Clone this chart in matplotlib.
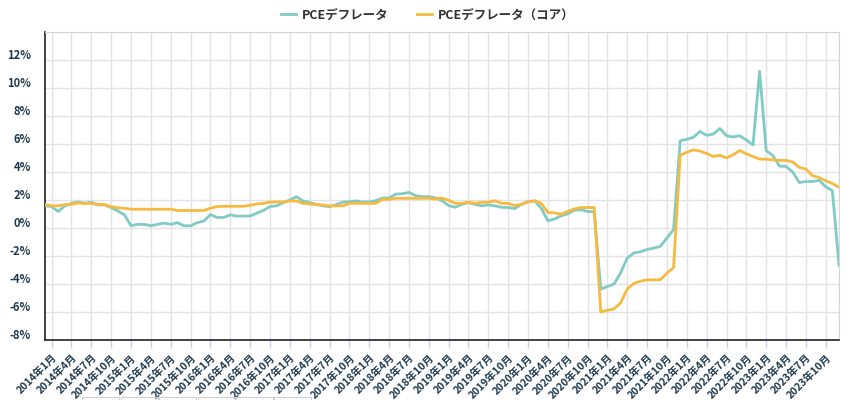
import pandas as pd
import matplotlib
matplotlib.use('Agg')
import matplotlib.pyplot as plt
from matplotlib.transforms import ScaledTranslation
from matplotlib.patches import Rectangle

plt.rcParams['font.family'] = ['Noto Sans CJK JP', 'DejaVu Sans']

# monthly, 2013-12 .. 2023-12 (前年比 %)
months = pd.date_range('2013-12-01', periods=121, freq='MS')
month_labels = [f"{d.year}年{d.month}月" for d in months]

pce = [1.58, 1.53, 1.18, 1.58, 1.76, 1.86, 1.76, 1.84, 1.65, 1.65,
       1.46, 1.22, 0.94, 0.16, 0.26, 0.26, 0.16, 0.26, 0.35, 0.26,
       0.38, 0.16, 0.16, 0.38, 0.49, 0.96, 0.75, 0.75, 0.94, 0.85,
       0.85, 0.85, 1.06, 1.25, 1.53, 1.58, 1.81, 2.00, 2.24, 1.93,
       1.81, 1.69, 1.58, 1.53, 1.67, 1.84, 1.88, 1.93, 1.86, 1.86,
       1.95, 2.14, 2.14, 2.42, 2.45, 2.54, 2.31, 2.24, 2.24, 2.16,
       1.95, 1.60, 1.48, 1.69, 1.81, 1.69, 1.58, 1.65, 1.58, 1.48,
       1.46, 1.39, 1.69, 1.88, 1.93, 1.41, 0.52, 0.64, 0.87, 1.01,
       1.27, 1.30, 1.18, 1.15, -4.36, -4.18, -4.00, -3.20, -2.15, -1.78,
       -1.70, -1.53, -1.44, -1.30, -0.71, -0.12, 6.24, 6.33, 6.48, 6.90,
       6.62, 6.71, 7.11, 6.59, 6.50, 6.59, 6.29, 5.93, 11.19, 5.53,
       5.18, 4.42, 4.40, 4.00, 3.25, 3.32, 3.32, 3.41, 2.94, 2.66,
       -2.66]

core = [1.67, 1.58, 1.58, 1.67, 1.69, 1.79, 1.76, 1.76, 1.69, 1.67,
        1.53, 1.44, 1.41, 1.34, 1.34, 1.34, 1.34, 1.34, 1.34, 1.34,
        1.25, 1.25, 1.25, 1.25, 1.25, 1.41, 1.53, 1.55, 1.55, 1.55,
        1.55, 1.62, 1.72, 1.76, 1.84, 1.86, 1.86, 1.93, 1.93, 1.76,
        1.72, 1.67, 1.65, 1.58, 1.58, 1.58, 1.76, 1.76, 1.76, 1.76,
        1.76, 2.05, 2.05, 2.12, 2.12, 2.12, 2.12, 2.12, 2.12, 2.07,
        2.14, 1.98, 1.76, 1.76, 1.84, 1.76, 1.84, 1.84, 1.95, 1.76,
        1.76, 1.60, 1.69, 1.86, 1.95, 1.76, 1.11, 1.08, 0.99, 1.18,
        1.36, 1.46, 1.46, 1.46, -6.00, -5.88, -5.78, -5.35, -4.36, -3.96,
        -3.80, -3.70, -3.70, -3.70, -3.23, -2.83, 5.20, 5.41, 5.59, 5.49,
        5.32, 5.11, 5.20, 5.01, 5.23, 5.53, 5.30, 5.11, 4.92, 4.92,
        4.87, 4.83, 4.83, 4.71, 4.33, 4.21, 3.74, 3.60, 3.37, 3.18,
        2.92]

y_ticks = [-8, -6, -4, -2, 0, 2, 4, 6, 8, 10, 12]

fig = plt.figure(figsize=(8.5, 4), dpi=100)
ax = fig.add_axes([45 / 850, 60 / 400, 794 / 850, 308 / 400])

x = list(range(len(months)))
ax.plot(x, pce, color='#80CBC4', lw=2, label='PCEデフレータ', zorder=3)
ax.plot(x, core, color='#F5BA3F', lw=2, label='PCEデフレータ（コア）', zorder=3)

ax.set_xlim(0, len(months) - 1)
ax.set_ylim(-8, 14)

tick_pos = list(range(1, len(months), 3))
ax.set_xticks(tick_pos)
ax.set_xticklabels([month_labels[i] for i in tick_pos], rotation=45,
                   ha='right', va='top', rotation_mode='anchor',
                   fontsize=7.5, fontweight='bold', color='#1F3A4D')
ax.tick_params(axis='x', length=6, width=1, color='#C8D3E6', pad=3)

ax.set_yticks(y_ticks)
ax.set_yticklabels([f"{v}%" for v in y_ticks], fontsize=8,
                   fontweight='bold', color='#1F3A4D')
ax.tick_params(axis='y', length=0, pad=10)
for lab in ax.get_yticklabels():
    lab.set_transform(lab.get_transform() + ScaledTranslation(0, 0.06, fig.dpi_scale_trans))

# vertical grid lines every 3 months plus the edges
for xv in tick_pos + [len(months) - 1]:
    ax.axvline(xv, color='#E3E3E3', lw=1, zorder=1)
for yv in y_ticks[1:] + [14]:
    ax.axhline(yv, color='#E3E3E3', lw=1, zorder=1)

ax.spines['left'].set_color('#222222')
ax.spines['bottom'].set_color('#222222')
ax.spines['left'].set_linewidth(1.2)
ax.spines['bottom'].set_linewidth(1.2)
ax.spines['top'].set_color('#D6D6D6')
ax.spines['right'].set_color('#D6D6D6')

fig.legend(loc='center', bbox_to_anchor=(0.503, 0.9625), ncol=2, frameon=False,
           prop={'size': 9, 'weight': 'bold'}, handlelength=1.2,
           handletextpad=0.45, columnspacing=2.3, labelcolor='#333333')

# faint boxes peeking in at the very bottom
for bx in [82, 121, 159, 198, 236, 274]:
    fig.patches.append(Rectangle((bx / 850, 0), 37 / 850, 3.5 / 400,
                                 transform=fig.transFigure, fill=False,
                                 edgecolor='#CFCFCF', lw=0.8))

fig.savefig('out.png', dpi=100)
